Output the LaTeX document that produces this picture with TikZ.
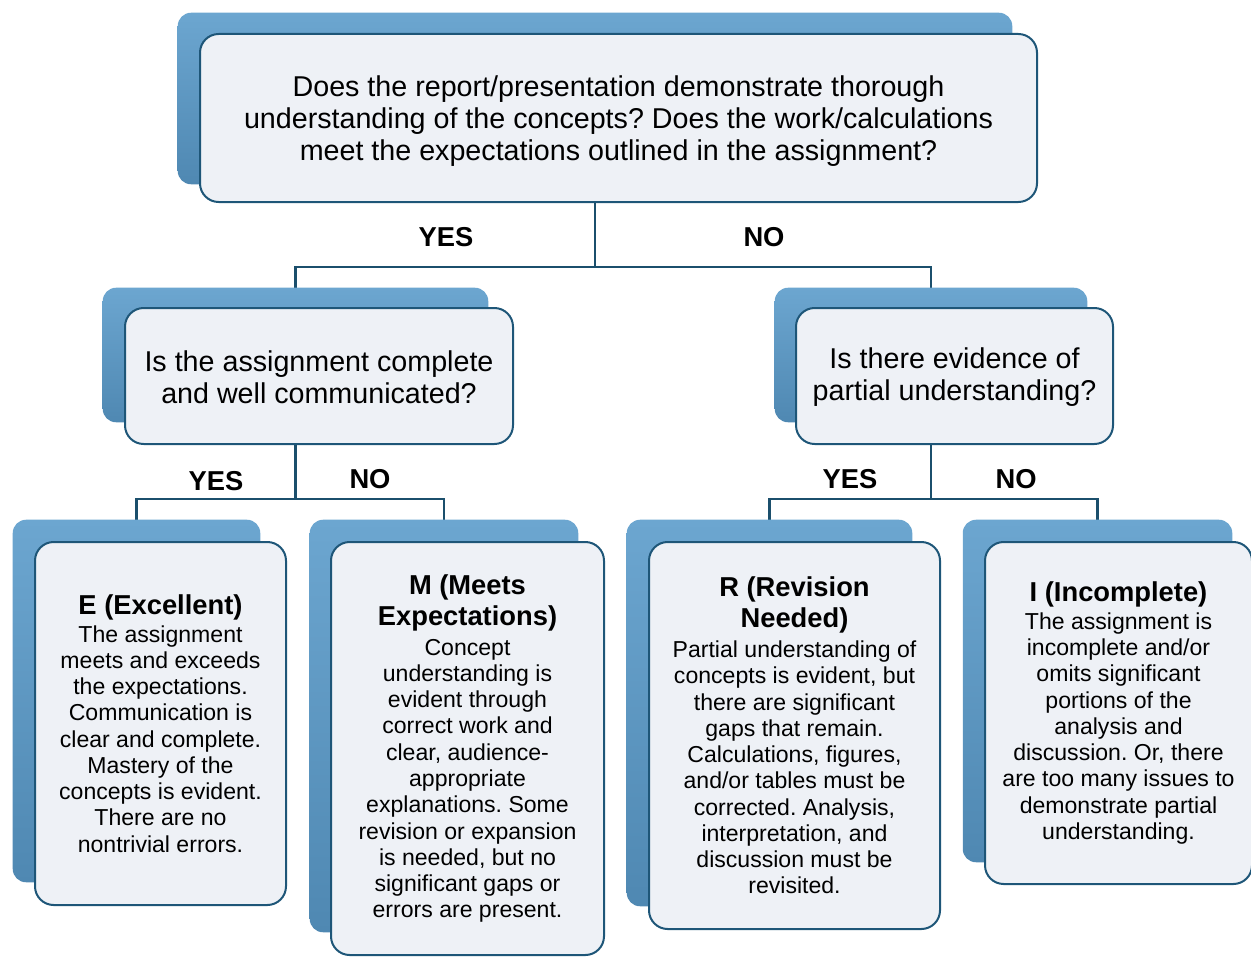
\documentclass[tikz,border=0pt]{standalone}
\usepackage{fontspec}
\setmainfont{Liberation Sans}
\usetikzlibrary{fit}
\frenchspacing
\definecolor{edgec}{HTML}{1E5678}
\definecolor{connc}{HTML}{1B4F6C}
\definecolor{frontc}{HTML}{EEF1F6}
\definecolor{backtop}{HTML}{6CA6D0}
\definecolor{backbot}{HTML}{4F88B2}
\tikzset{
  backbox/.style={rounded corners=10pt, top color=backtop, bottom color=backbot, draw=none, inner sep=0pt},
  frontbox/.style={rounded corners=14pt, fill=frontc, draw=edgec, line width=1.5pt, inner sep=0pt},
  qtext/.style={align=center, inner sep=0pt, font=\fontsize{21.5}{24}\selectfont},
  leaftext/.style={align=center, inner sep=0pt, font=\fontsize{17.3}{19.7}\selectfont},
  conn/.style={draw=connc, line width=1.9pt},
  lab/.style={font=\bfseries\fontsize{20.5}{24}\selectfont, inner sep=0pt},
}
\newcommand{\ttl}[1]{{\bfseries\fontsize{20.5}{24}\selectfont #1}}
\begin{document}
\begin{tikzpicture}[x=0.75pt,y=-0.75pt]
\useasboundingbox (0,0) rectangle (1251,956);
% back box frames
\node[fit={(178,13) (1012,184)}, inner sep=0pt] (b0) {};
\node[fit={(103,288) (488,422)}, inner sep=0pt] (b1) {};
\node[fit={(775,288) (1087,422)}, inner sep=0pt] (b2) {};
\node[fit={(13,520) (260,882)}, inner sep=0pt] (b3) {};
\node[fit={(310,520) (578,932)}, inner sep=0pt] (b4) {};
\node[fit={(627,520) (912,906)}, inner sep=0pt] (b5) {};
\node[fit={(963,520) (1232,862)}, inner sep=0pt] (b6) {};
% connectors
\draw[conn] (b0.south) -- (b0.south |- 0,267) coordinate (j0);
\draw[conn] (b1.north) |- (j0) -| (b2.north);
\draw[conn] (b1.south) -- (b1.south |- 0,499) coordinate (j1);
\draw[conn] (b3.north) |- (j1) -| (b4.north);
\draw[conn] (b2.south) -- (b2.south |- 0,499) coordinate (j2);
\draw[conn] (b5.north) |- (j2) -| (b6.north);
% back boxes
\foreach \b in {b0,b1,b2,b3,b4,b5,b6}{
  \path[backbox] (\b.south west) rectangle (\b.north east);
}
% front boxes
\node[frontbox, fit={(200,34) (1037,202)}] (q0) {};
\node[qtext] (t0) at ([yshift=-2pt]q0.center) {Does the report/presentation demonstrate thorough\\understanding of the concepts? Does the work/calculations\\meet the expectations outlined in the assignment?};
\node[frontbox, fit={(125,308) (513,444)}] (q1) {};
\node[qtext] (t1) at ([yshift=-1pt]q1.center) {Is the assignment complete\\and well communicated?};
\node[frontbox, fit={(796,308) (1113,444)}] (q2) {};
\node[qtext] (t2) at ([yshift=-1pt]q2.center) {Is there evidence of\\partial understanding?};
\node[frontbox, fit={(35,542) (286,905)}] (q3) {};
\node[leaftext] (t3) at (q3.center) {\ttl{E (Excellent)}\\[1pt]The assignment\\meets and exceeds\\the expectations.\\Communication is\\clear and complete.\\Mastery of the\\concepts is evident.\\There are no\\nontrivial errors.};
\node[frontbox, fit={(331,542) (604,955)}] (q4) {};
\node[leaftext] (t4) at (q4.center) {\ttl{M (Meets}\\[3.8pt]\ttl{Expectations)}\\[2.5pt]Concept\\understanding is\\evident through\\correct work and\\clear, audience-\\appropriate\\explanations. Some\\revision or expansion\\is needed, but no\\significant gaps or\\errors are present.};
\node[frontbox, fit={(649,542) (940,929)}] (q5) {};
\node[leaftext] (t5) at (q5.center) {\ttl{R (Revision}\\[3.8pt]\ttl{Needed)}\\[2.5pt]Partial understanding of\\concepts is evident, but\\there are significant\\gaps that remain.\\Calculations, figures,\\and/or tables must be\\corrected. Analysis,\\interpretation, and\\discussion must be\\revisited.};
\node[frontbox, fit={(985,542) (1252,884)}] (q6) {};
\node[leaftext] (t6) at (q6.center) {\ttl{I (Incomplete)}\\[1pt]The assignment is\\incomplete and/or\\omits significant\\portions of the\\analysis and\\discussion. Or, there\\are too many issues to\\demonstrate partial\\understanding.};
% labels
\node[lab] (y0) at (446,237) {YES};
\node[lab] (n0) at (764,237) {NO};
\node[lab] (y1) at (216,481) {YES};
\node[lab] (n1) at (370,479) {NO};
\node[lab] (y2) at (850,479) {YES};
\node[lab] (n2) at (1016,479) {NO};
\end{tikzpicture}
\end{document}
